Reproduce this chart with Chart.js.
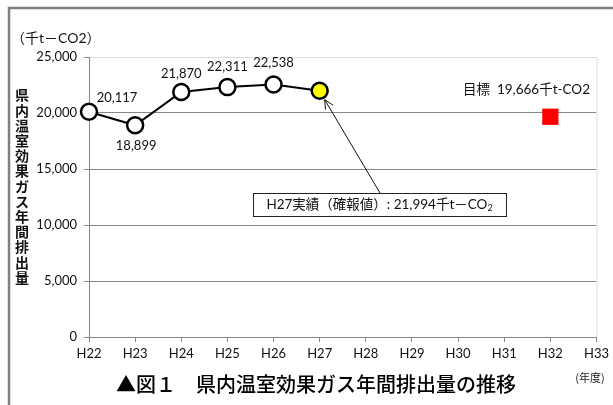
<!DOCTYPE html>
<html><head><meta charset="utf-8">
<script src="https://cdn.jsdelivr.net/npm/chart.js@4"></script>
<style>html,body{margin:0;padding:0;background:#fff}#wrap{width:613px;height:405px;position:relative}</style>
</head><body><div id="wrap"><canvas id="c" width="613" height="405"></canvas></div>
<script>
const categories = ['H22','H23','H24','H25','H26','H27','H28','H29','H30','H31','H32','H33'];
const actual = [20117, 18899, 21870, 22311, 22538, 21994, null, null, null, null, null, null];
const target = [null, null, null, null, null, null, null, null, null, null, 19666, null];
const yTickValues = [0, 5000, 10000, 15000, 20000, 25000];
const unitLabel = '（千t－CO2）';
const yTitle = '県内温室効果ガス年間排出量';
const chartTitle = '▲図１　県内温室効果ガス年間排出量の推移';
const yearUnit = '(年度)';
const targetLabel = '目標  19,666千t-CO2';
const noteText = 'H27実績（確報値）: 21,994千t－CO';
const noteSub = '2';

const JP = "'Noto Sans CJK JP', sans-serif";
const LAT = "Lato, 'Noto Sans CJK JP', sans-serif";
const fmt = v => v.toLocaleString('en-US');

const decor = {
  id: 'decor',
  afterDatasetsDraw(chart) {
    const ctx = chart.ctx, x = chart.scales.x, y = chart.scales.y, a = chart.chartArea;
    ctx.save();
    // plot area right border
    ctx.strokeStyle = '#d6dde6'; ctx.lineWidth = 1;
    ctx.beginPath(); ctx.moveTo(a.right + 0.5, a.top); ctx.lineTo(a.right + 0.5, a.bottom); ctx.stroke();
    // outer frame
    ctx.strokeStyle = '#808080'; ctx.lineWidth = 2.5;
    ctx.beginPath(); ctx.moveTo(9, 405); ctx.lineTo(9, 8); ctx.lineTo(613, 8); ctx.stroke();

    ctx.fillStyle = '#111';
    // unit
    ctx.font = '14px ' + LAT; ctx.textAlign = 'left'; ctx.textBaseline = 'middle';
    ctx.fillText(unitLabel, 11, 38);
    // vertical y title
    ctx.font = 'bold 14px ' + JP; ctx.textAlign = 'center';
    const chars = [...yTitle];
    chars.forEach((ch, i) => ctx.fillText(ch, 22, 95 + i * 15.2));

    // data labels
    ctx.font = '13px ' + LAT; ctx.fillStyle = '#111';
    const off = [[28,-14],[1,20],[0,-18],[0,-20],[0,-22]];
    off.forEach((o, i) => {
      const px = x.getPixelForValue(i), py = y.getPixelForValue(actual[i]);
      ctx.fillText(fmt(actual[i]), px + o[0], py + o[1]);
    });

    // target label
    ctx.font = '13.5px ' + LAT; ctx.textAlign = 'right';
    ctx.fillText(targetLabel, 590, 90);

    // annotation box
    const bx = 253, by = 193, bw = 253, bh = 23;
    ctx.fillStyle = '#fff'; ctx.fillRect(bx, by, bw, bh);
    ctx.strokeStyle = '#222'; ctx.lineWidth = 1;
    ctx.strokeRect(bx + 0.5, by + 0.5, bw, bh);
    ctx.fillStyle = '#111'; ctx.textAlign = 'left';
    ctx.font = '13.5px ' + LAT;
    const tw = ctx.measureText(noteText).width;
    ctx.font = '9px ' + LAT;
    const sw = ctx.measureText(noteSub).width;
    const tx = bx + (bw - tw - sw) / 2;
    ctx.font = '13.5px ' + LAT;
    ctx.fillText(noteText, tx, by + bh / 2 + 0.5);
    ctx.font = '9px ' + LAT;
    ctx.fillText(noteSub, tx + tw, by + bh / 2 + 4);

    // arrow
    const ex = x.getPixelForValue(5) + 5, ey = y.getPixelForValue(actual[5]) + 9;
    const sx = 380, sy = by;
    ctx.strokeStyle = '#111'; ctx.lineWidth = 1;
    ctx.beginPath(); ctx.moveTo(sx, sy); ctx.lineTo(ex, ey); ctx.stroke();
    const ang = Math.atan2(ey - sy, ex - sx), L = 10, w = 0.45;
    ctx.beginPath();
    ctx.moveTo(ex - L * Math.cos(ang - w), ey - L * Math.sin(ang - w));
    ctx.lineTo(ex, ey);
    ctx.lineTo(ex - L * Math.cos(ang + w), ey - L * Math.sin(ang + w));
    ctx.stroke();

    // title
    ctx.font = '500 20px ' + JP; ctx.textAlign = 'center'; ctx.fillStyle = '#000';
    ctx.fillText(chartTitle, 316, 384);
    ctx.font = '11px ' + JP; ctx.fillStyle = '#222';
    ctx.fillText(yearUnit, 590, 378);
    ctx.restore();
  }
};

new Chart(document.getElementById('c'), {
  type: 'line',
  data: {
    labels: categories,
    datasets: [
      {
        data: actual,
        borderColor: '#000', borderWidth: 2,
        pointRadius: 8, pointHoverRadius: 8,
        pointBorderWidth: 2.5, pointBorderColor: '#000',
        pointBackgroundColor: actual.map((v, i) => i === 5 ? '#ffff00' : '#fff'),
        clip: false, spanGaps: false, order: 1
      },
      {
        data: target,
        showLine: false,
        pointStyle: 'rect', pointRadius: 11.5, pointHoverRadius: 11.5,
        pointBackgroundColor: '#ff0000', pointBorderColor: '#ff0000', pointBorderWidth: 0,
        clip: false, order: 0
      }
    ]
  },
  options: {
    responsive: false, animation: false, devicePixelRatio: 1,
    layout: { padding: { left: 0, top: 57, right: 15, bottom: 0 } },
    plugins: { legend: { display: false }, tooltip: { enabled: false } },
    scales: {
      x: {
        offset: false,
        afterFit: s => { s.height = 68; },
        grid: { drawOnChartArea: false, drawTicks: true, tickLength: 5, color: '#868686' },
        border: { color: '#868686', width: 1 },
        ticks: { color: '#111', font: { family: LAT, size: 13 }, padding: 4, maxRotation: 0, autoSkip: false }
      },
      y: {
        min: 0, max: 25000,
        afterFit: s => { s.width = 89; },
        afterBuildTicks: s => { s.ticks = yTickValues.map(v => ({ value: v })); },
        grid: {
          color: c => (c.tick && c.tick.value === 25000) ? '#d6dde6' : '#868686',
          tickColor: '#868686', drawTicks: true, tickLength: 5, lineWidth: 1
        },
        border: { color: '#868686', width: 1 },
        ticks: { color: '#111', font: { family: LAT, size: 13 }, padding: 7, callback: v => fmt(v) }
      }
    }
  },
  plugins: [decor]
});
</script></body></html>
